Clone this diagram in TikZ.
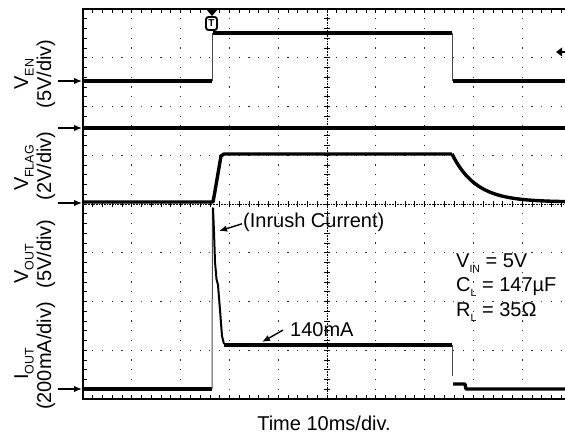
\documentclass[tikz,border=0pt]{standalone}
\usepackage{fontspec}
\setmainfont{Liberation Sans}
\usetikzlibrary{arrows.meta}
\newcommand\lab{\fontsize{20}{22}\selectfont}
\newcommand\sbs[1]{\raisebox{-0.28em}{\fontsize{12.5}{12.5}\selectfont #1}}
\newcommand\sbt[1]{\raisebox{-0.28em}{\fontsize{10.5}{10.5}\selectfont #1}}
\begin{document}
\begin{tikzpicture}[x=1pt,y=-1pt,
  trace/.style={line width=3.4pt,line join=round},
  edgeline/.style={line width=1pt,black!70},
  framel/.style={line width=2.6pt},
  tickl/.style={line width=0.7pt},
  lbl/.style={rotate=90,anchor=base,inner sep=0pt,font=\lab},
  annot/.style={anchor=base west,inner sep=0pt,font=\lab},
  arr/.style={-{Latex[length=8pt,width=6.5pt]},line width=1.4pt},
  gdot/.style={fill=black!80}]
\useasboundingbox (0,0) rectangle (565,436);
% grid dots
\foreach \k in {1,2,3,4,6,7,8,9}{
  \foreach \j in {1,...,39}{
    \fill[gdot] ({83+48.8*\k-0.6},{9+9.75*\j-0.6}) rectangle ++(1.2,1.2);
  }
}
\foreach \k in {1,2,3,5,6,7}{
  \foreach \j in {1,...,49}{
    \fill[gdot] ({83+9.76*\j-0.6},{9+48.75*\k-0.6}) rectangle ++(1.2,1.2);
  }
}
% center axes
\draw[densely dotted,line width=0.6pt] (327,9) -- (327,399);
\draw[densely dotted,line width=0.6pt] (83,204) -- (565,204);
\foreach \j in {1,...,39}{ \draw[tickl] (324,{9+9.75*\j}) -- (330,{9+9.75*\j}); }
\foreach \j in {1,...,49}{ \draw[tickl] ({83+9.76*\j},201) -- ({83+9.76*\j},207); }
% frame ticks
\foreach \j in {1,...,49}{
  \draw[tickl] ({83+9.76*\j},9) -- ++(0,4);
  \draw[tickl] ({83+9.76*\j},399) -- ++(0,-4);
}
\foreach \j in {1,...,39}{ \draw[tickl] (83,{9+9.75*\j}) -- ++(4,0); }
% frame
\draw[framel] (565,9) -- (83,9) -- (83,399) -- (565,399);
% trigger marker
\fill (206,9) -- (218,9) -- (212,16) -- cycle;
\node[draw,line width=1.9pt,rounded corners=2.5pt,fill=white,inner sep=0pt,minimum width=11pt,minimum height=13pt,font=\bfseries\fontsize{10}{10}\selectfont] (trig) at (211.5,23.5) {T};
% right marker
\fill (556,52) -- (562,47.5) -- (562,56.5) -- cycle;
\draw[line width=1.5pt] (562,52) -- (565,52);
% V_EN
\draw[trace] (83,81) -- (211.5,81);
\draw[edgeline] (212,81) -- (212,33);
\draw[trace] (213,33) -- (451.5,33);
\draw[edgeline] (452,33) -- (452,81);
\draw[trace] (452.5,81) -- (565,81);
% flat line
\draw[trace] (83,128) -- (565,128);
% V_FLAG
\draw[trace] (83,202) -- (213,202) -- (215,191) -- (221,156) -- (224,154) -- (452,154);
\draw[trace] plot[domain=452:565,samples=50] (\x,{202-48*exp(-(\x-452)/24)});
% I_OUT
\draw[trace] (83,389) -- (211.5,389);
\draw[edgeline] (212,389) -- (212.5,207);
\draw[line width=2pt] (213,208) -- (214,232) -- (215,262) -- (216.5,279) -- (218,285) -- (220,310) -- (222,336) -- (224,344);
\draw[trace] (224,345) -- (451.5,345);
\draw[edgeline] (452,345) -- (452,376);
\draw[trace] (453,384) -- (465,384) -- (466,389) -- (565,389);
% left arrows
\coordinate (a1) at (82,81); \coordinate (b1) at (58,81);
\coordinate (a2) at (82,128); \coordinate (b2) at (58,128);
\coordinate (a3) at (82,203); \coordinate (b3) at (58,203);
\coordinate (a4) at (82,389); \coordinate (b4) at (58,389);
\draw[arr] (b1) -- (a1);
\draw[arr] (b2) -- (a2);
\draw[arr] (b3) -- (a3);
\draw[arr] (b4) -- (a4);
% left labels
\node[lbl] (ven) at (28,74) {V\sbs{EN}};
\node[lbl] (vens) at (51,74) {(5V/div)};
\node[lbl] (vfl) at (28,168) {V\sbs{FLAG}};
\node[lbl] (vfls) at (51,166) {(2V/div)};
\node[lbl] (vout) at (28,264) {V\sbs{OUT}};
\node[lbl] (vouts) at (51,254) {(5V/div)};
\node[lbl] (iout) at (28,364) {I\sbs{OUT}};
\node[lbl] (iouts) at (51,356) {(200mA/div)};
% annotations
\node[annot] (inr) at (243,227) {(Inrush Current)};
\coordinate (spk) at (219,231);
\draw[arr] ([xshift=-1pt,yshift=-2pt]inr.west) -- (spk);
\node[annot] (ma) at (290,336) {140mA};
\coordinate (lvl) at (262,342);
\draw[arr] ([xshift=-7pt,yshift=-1pt]ma.west) -- (lvl);
\node[annot] (pvin) at (456,267) {V\sbt{IN} = 5V};
\node[annot] (pcl) at (456,291) {C\sbt{L} = 147µF};
\node[annot] (prl) at (456,316) {R\sbt{L} = 35Ω};
\node[anchor=base,inner sep=0pt,font=\lab] (tm) at (324,430) {Time 10ms/div.};
\end{tikzpicture}
\end{document}
